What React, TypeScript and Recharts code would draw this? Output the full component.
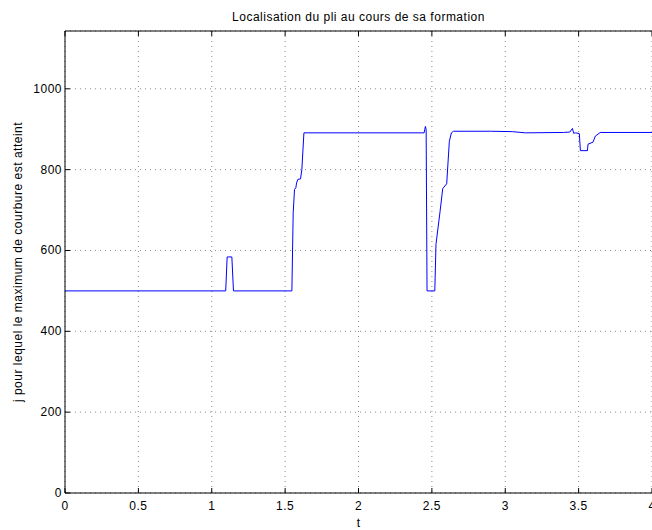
import React from 'react';
import { LineChart, Line, XAxis, YAxis, CartesianGrid } from 'recharts';

const tValues = [0, 1.095, 1.105, 1.137, 1.148, 1.546, 1.555, 1.564, 1.573, 1.578, 1.587, 1.605, 1.614, 1.628, 2.447, 2.456, 2.461, 2.467, 2.52, 2.528, 2.556, 2.574, 2.601, 2.619, 2.633, 2.647, 2.9, 3.05, 3.136, 3.397, 3.44, 3.458, 3.466, 3.48, 3.505, 3.512, 3.56, 3.564, 3.598, 3.614, 3.647, 4];
const jValues = [500, 500, 584, 584, 500, 500, 693, 751, 755, 767, 776, 777, 800, 891, 891, 907, 899, 500, 500, 615, 697, 753, 765, 870, 891, 895, 895, 894, 891, 892, 893, 902, 890, 891, 889, 847, 847, 863, 868, 883, 892, 892];

const xTicks = [0, 0.5, 1, 1.5, 2, 2.5, 3, 3.5, 4];
const yTicks = [0, 200, 400, 600, 800, 1000];

const title = 'Localisation du pli au cours de sa formation';
const xLabel = 't';
const yLabel = 'j pour lequel le maximum de courbure est atteint';

const data = tValues.map((t, i) => ({ t, j: jValues[i] }));

const FONT = '"Liberation Sans", Arial, Helvetica, sans-serif';
const FS = 12;
const LS = 0.5;

const BottomTick = (props: any) => {
  const { x, y, payload } = props;
  return (
    <g>
      <line x1={x} y1={y} x2={x} y2={y - 5} stroke="#000" strokeWidth={1} />
      <text x={x} y={y + 17} textAnchor="middle" fontSize={FS} letterSpacing={LS} fontFamily={FONT} fill="#000">
        {String(payload.value)}
      </text>
    </g>
  );
};

const TopTick = (props: any) => {
  const { x, y } = props;
  return <line x1={x} y1={y} x2={x} y2={y + 5} stroke="#000" strokeWidth={1} />;
};

const LeftTick = (props: any) => {
  const { x, y, payload } = props;
  return (
    <g>
      <line x1={x} y1={y} x2={x + 5} y2={y} stroke="#000" strokeWidth={1} />
      <text x={x - 3} y={y + 4} textAnchor="end" fontSize={FS} letterSpacing={LS} fontFamily={FONT} fill="#000">
        {String(payload.value)}
      </text>
    </g>
  );
};

const YLabel = (props: any) => {
  const vb = props.viewBox || {};
  const cx = (vb.x || 0) + 22;
  const cy = (vb.y || 0) + (vb.height || 0) / 2;
  return (
    <text
      x={cx}
      y={cy}
      transform={`rotate(-90 ${cx} ${cy})`}
      textAnchor="middle"
      fontSize={FS}
      letterSpacing={LS}
      fontFamily={FONT}
      fill="#000"
    >
      {yLabel}
    </text>
  );
};

const TitleLabel = (props: any) => {
  const vb = props.viewBox || {};
  const cx = (vb.x || 0) + (vb.width || 0) / 2;
  return (
    <text x={cx} y={21} textAnchor="middle" fontSize={FS} letterSpacing={LS} fontFamily={FONT} fill="#000">
      {title}
    </text>
  );
};

const XLabel = (props: any) => {
  const vb = props.viewBox || {};
  const cx = (vb.x || 0) + (vb.width || 0) / 2;
  const by = (vb.y || 0) + (vb.height || 0) - 3;
  return (
    <text x={cx} y={by} textAnchor="middle" fontSize={FS} fontFamily={FONT} fill="#000">
      {xLabel}
    </text>
  );
};

export default function App() {
  return (
    <div style={{ position: 'absolute', left: 0, top: 0, background: '#fff' }}>
      <LineChart
        width={652}
        height={530}
        data={data}
        margin={{ top: 0, right: 0, bottom: 0, left: 0 }}
      >
        <CartesianGrid stroke="#8a8a8a" strokeDasharray="1 4" strokeWidth={1} />
        <XAxis
          dataKey="t"
          type="number"
          domain={[0, 4]}
          ticks={xTicks}
          height={37}
          tickSize={0}
          tickMargin={0}
          tick={<BottomTick />}
          tickLine={false}
          axisLine={{ stroke: '#000', strokeWidth: 1 }}
          label={<XLabel />}
          interval={0}
        />
        <XAxis
          xAxisId="top"
          orientation="top"
          dataKey="t"
          type="number"
          domain={[0, 4]}
          ticks={xTicks}
          height={31}
          tickSize={0}
          tickMargin={0}
          tick={<TopTick />}
          tickLine={false}
          axisLine={{ stroke: '#000', strokeWidth: 1 }}
          label={<TitleLabel />}
          interval={0}
        />
        <YAxis
          type="number"
          domain={[0, 1143]}
          ticks={yTicks}
          width={65}
          tickSize={0}
          tickMargin={0}
          tick={<LeftTick />}
          tickLine={false}
          axisLine={{ stroke: '#000', strokeWidth: 1 }}
          label={<YLabel />}
          interval={0}
          allowDataOverflow
        />
        <YAxis
          yAxisId="right"
          orientation="right"
          type="number"
          domain={[0, 1143]}
          width={0}
          tick={false}
          tickLine={false}
          axisLine={{ stroke: '#000', strokeWidth: 1 }}
        />
        <Line
          type="linear"
          dataKey="j"
          stroke="#0000ff"
          strokeWidth={1}
          dot={false}
          activeDot={false}
          isAnimationActive={false}
        />
      </LineChart>
    </div>
  );
}
